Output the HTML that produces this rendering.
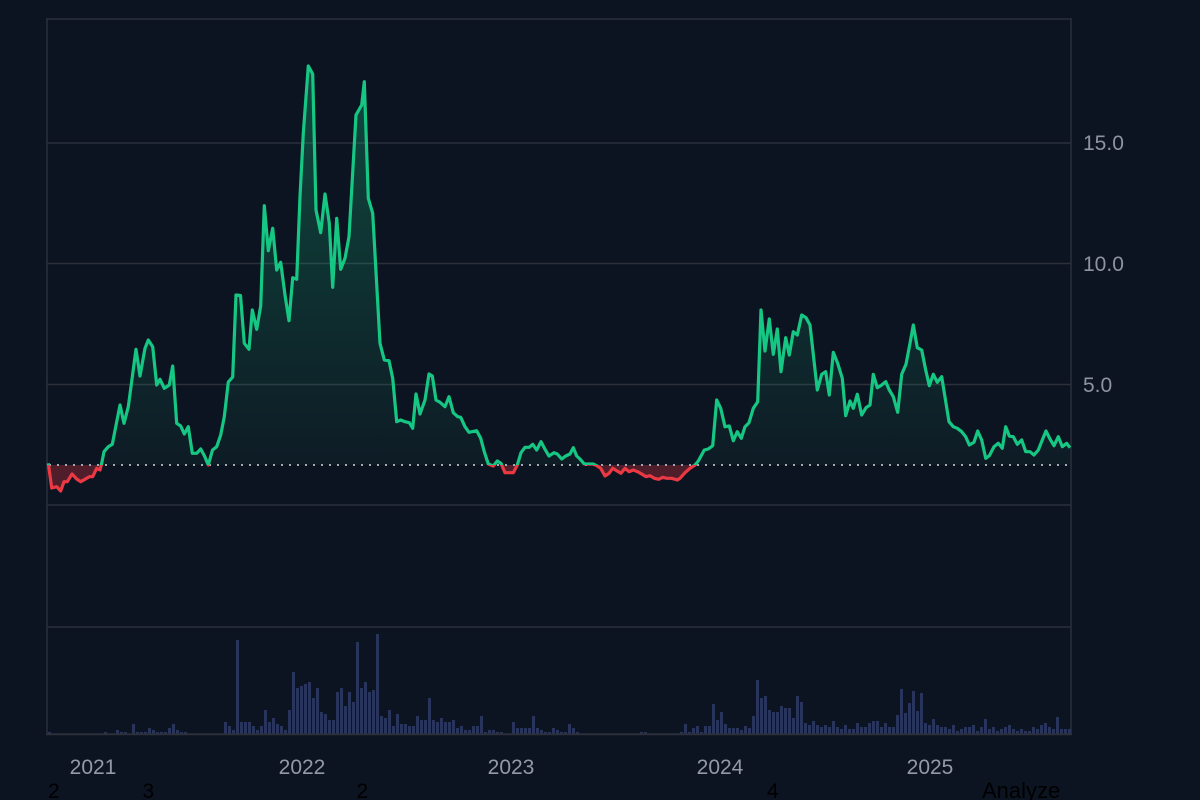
<!DOCTYPE html>
<html>
<head>
<meta charset="utf-8">
<style>
html,body{margin:0;padding:0;background:#0d1421;width:1200px;height:800px;overflow:hidden;}
svg{display:block;}
</style>
</head>
<body>
<svg width="1200" height="800" viewBox="0 0 1200 800" xmlns="http://www.w3.org/2000/svg">
<defs>
<linearGradient id="gg" gradientUnits="userSpaceOnUse" x1="0" y1="19" x2="0" y2="465">
<stop offset="0" stop-color="#16c784" stop-opacity="0.33"/>
<stop offset="1" stop-color="#16c784" stop-opacity="0.04"/>
</linearGradient>
<clipPath id="above"><rect x="0" y="0" width="1200" height="465"/></clipPath>
<clipPath id="below"><rect x="0" y="465" width="1200" height="335"/></clipPath>
<path id="areaP" d="M48.3,465 L48.3,463.3 L51.7,488 L56.7,486.7 L60.7,491 L64,481.7 L67.3,481.7 L72,474 L76.7,479 L80.7,481.7 L85,479.3 L89.3,476.7 L92.7,476.7 L96.7,468.3 L100,470 L101.7,463.3 L104,451.7 L108.3,446.7 L112.3,444.3 L120,405 L124,423.3 L128.3,406.7 L136,349.3 L140,376 L145,348.3 L148.3,340 L152.7,346.7 L156.7,385 L160,379.3 L164.3,388.3 L169.3,385 L172.7,366 L176.7,423.3 L180.7,426 L184.3,434 L188.3,426.7 L192.3,453.3 L196.7,453.3 L200.7,449 L204.5,456 L208.3,465 L212.5,450 L216.7,446.7 L220.7,435 L224.3,416.7 L228.3,382 L232.7,377 L236,295 L240.5,295.5 L244.3,343.3 L249,349.3 L252.3,310 L256.7,329.3 L260.7,306 L264.3,205.7 L268.3,250.7 L272.7,228.3 L276.7,270 L280.7,262.3 L285,295 L289,320.7 L292.7,277.7 L296.7,279.3 L300,196.7 L303.3,133.3 L308.3,66 L312.7,74 L316,210 L320.7,232.7 L325,194 L329.3,223.3 L332.7,287.3 L336.7,218.3 L340.7,269.3 L345,258.3 L349,236.7 L356,115 L361.7,105 L364.3,81.7 L368.3,198.3 L372.7,213.3 L380,343.3 L384.3,360 L389,360.7 L392.7,378.3 L396.7,421.7 L400.7,420 L405,421.7 L409.3,422.7 L412.7,428.3 L416,394 L420,414 L425,400 L429,374 L432.3,376 L436,400 L440,402.3 L445,406.7 L449,396.7 L453.3,412.7 L457.7,416.7 L460.7,417.3 L465,426.7 L469,432.3 L476.7,430.7 L480.7,438.3 L484.3,451.7 L488.3,464 L493.3,466 L497.3,461 L501,463.3 L505,472.7 L513.3,472.7 L517.3,465 L521,452.7 L525,447.3 L529.3,447.3 L532.7,444.3 L536.7,450 L541,441.7 L545,449.3 L549,456 L554,452.7 L557.3,454 L561.7,459 L565.7,456 L570,454 L573.3,447.7 L576.7,456 L580,459 L584.3,464 L588.3,464 L593.3,464 L597.3,466 L600.7,468.3 L605,476 L609,473.3 L612.7,468.3 L616.7,470.7 L621,473.3 L625,468.3 L629,471.7 L633.3,470 L637.7,471.7 L641.7,474 L646,476.7 L650,475.7 L654.3,478.3 L658.7,479.3 L662.7,477.3 L666.7,478.3 L671.7,478.3 L677.3,480 L680,478.3 L685,472.7 L690,468.3 L695,465 L698.3,461 L704.3,450 L708.3,449 L712.7,445.7 L716.7,400 L720.7,408.3 L725,426.7 L729.3,426 L733.3,440.7 L737.3,431.7 L741.3,438.3 L745,426.7 L749,422.7 L753.3,408.3 L757.7,401.7 L761,310 L765,351 L769.3,319 L773.3,354.3 L777.3,329 L781,371.7 L785.7,337.7 L789.3,355 L793.3,331.7 L797.3,335 L801.7,315 L806,317.7 L810,325 L817.3,390 L821.7,374.3 L825.7,371.7 L829.3,395 L833.3,352.3 L837.7,363.3 L842.3,378.3 L845.7,415.7 L850,401 L853.3,408.3 L857.3,394.3 L861.7,415 L866,407.7 L870,405 L873.3,374.3 L877.3,387.7 L881.7,385 L885.7,381.7 L889.3,390 L893.3,396.7 L897.7,412.3 L901.7,374.3 L906,364.3 L910,343.3 L913.3,325 L917.3,347.7 L921.7,350 L925.7,370 L929.3,385.7 L933.3,374.3 L937.3,382.3 L941.7,376.7 L949,421.7 L953.3,426.7 L957.3,428.3 L961.7,431.7 L965.7,436.7 L969.3,445 L974,442.3 L977.7,431 L981.7,440 L985.7,458.3 L989.3,455.7 L994,446.7 L998.3,443.3 L1002.3,448.3 L1005.7,426.7 L1009.3,436 L1013.3,436.7 L1017.3,444.3 L1021.7,440 L1025.7,451.7 L1030,451.7 L1034,455 L1038.3,450 L1042.3,440 L1046,431 L1050,439 L1054,445.7 L1058.3,436.7 L1062.3,446.7 L1066.7,443.3 L1070,447.7 L1070,465 Z"/>
</defs>
<rect x="0" y="0" width="1200" height="800" fill="#0d1421"/>

<!-- grid -->
<g stroke="#2b303b" stroke-width="1.5" fill="none">
<line x1="47" y1="19" x2="1071" y2="19"/>
<line x1="47" y1="143" x2="1071" y2="143"/>
<line x1="47" y1="263.5" x2="1071" y2="263.5"/>
<line x1="47" y1="384.5" x2="1071" y2="384.5"/>
<line x1="47" y1="505" x2="1071" y2="505"/>
<line x1="47" y1="627" x2="1071" y2="627"/>
<line x1="47" y1="18" x2="47" y2="735"/>
<line x1="1071" y1="18" x2="1071" y2="735"/>
</g>

<!-- volume bars -->
<path fill="#29345c" d="M48 734V732h3V734z M104 734V732h3V734z M116 734V730h3V734z M120 734V732h3V734z M124 734V732h3V734z M132 734V724h3V734z M136 734V732h3V734z M140 734V732h3V734z M144 734V732h3V734z M148 734V728h3V734z M152 734V730h3V734z M156 734V732h3V734z M160 734V732h3V734z M164 734V732h3V734z M168 734V728h3V734z M172 734V724h3V734z M176 734V730h3V734z M180 734V732h3V734z M184 734V732h3V734z M224 734V722h3V734z M228 734V726h3V734z M232 734V730h3V734z M236 734V640h3V734z M240 734V722h3V734z M244 734V722h3V734z M248 734V722h3V734z M252 734V726h3V734z M256 734V730h3V734z M260 734V726h3V734z M264 734V710h3V734z M268 734V722h3V734z M272 734V718h3V734z M276 734V724h3V734z M280 734V726h3V734z M284 734V730h3V734z M288 734V710h3V734z M292 734V672h3V734z M296 734V688h3V734z M300 734V686h3V734z M304 734V684h3V734z M308 734V682h3V734z M312 734V698h3V734z M316 734V688h3V734z M320 734V712h3V734z M324 734V714h3V734z M328 734V720h3V734z M332 734V720h3V734z M336 734V692h3V734z M340 734V688h3V734z M344 734V706h3V734z M348 734V692h3V734z M352 734V702h3V734z M356 734V642h3V734z M360 734V688h3V734z M364 734V682h3V734z M368 734V692h3V734z M372 734V690h3V734z M376 734V634h3V734z M380 734V716h3V734z M384 734V718h3V734z M388 734V710h3V734z M392 734V726h3V734z M396 734V714h3V734z M400 734V724h3V734z M404 734V724h3V734z M408 734V726h3V734z M412 734V726h3V734z M416 734V716h3V734z M420 734V720h3V734z M424 734V720h3V734z M428 734V698h3V734z M432 734V720h3V734z M436 734V722h3V734z M440 734V718h3V734z M444 734V722h3V734z M448 734V722h3V734z M452 734V720h3V734z M456 734V728h3V734z M460 734V726h3V734z M464 734V730h3V734z M468 734V730h3V734z M472 734V726h3V734z M476 734V726h3V734z M480 734V716h3V734z M484 734V732h3V734z M488 734V730h3V734z M492 734V730h3V734z M496 734V732h3V734z M500 734V732h3V734z M512 734V722h3V734z M516 734V728h3V734z M520 734V728h3V734z M524 734V728h3V734z M528 734V728h3V734z M532 734V716h3V734z M536 734V728h3V734z M540 734V730h3V734z M544 734V732h3V734z M548 734V732h3V734z M552 734V728h3V734z M556 734V730h3V734z M560 734V732h3V734z M564 734V732h3V734z M568 734V724h3V734z M572 734V728h3V734z M576 734V732h3V734z M640 734V732h3V734z M644 734V732h3V734z M680 734V732h3V734z M684 734V724h3V734z M688 734V732h3V734z M692 734V728h3V734z M696 734V726h3V734z M700 734V732h3V734z M704 734V726h3V734z M708 734V726h3V734z M712 734V704h3V734z M716 734V720h3V734z M720 734V712h3V734z M724 734V724h3V734z M728 734V728h3V734z M732 734V728h3V734z M736 734V728h3V734z M740 734V730h3V734z M744 734V726h3V734z M748 734V728h3V734z M752 734V716h3V734z M756 734V680h3V734z M760 734V698h3V734z M764 734V696h3V734z M768 734V710h3V734z M772 734V712h3V734z M776 734V712h3V734z M780 734V706h3V734z M784 734V708h3V734z M788 734V708h3V734z M792 734V718h3V734z M796 734V696h3V734z M800 734V702h3V734z M804 734V723h3V734z M808 734V725h3V734z M812 734V721h3V734z M816 734V725h3V734z M820 734V727h3V734z M824 734V725h3V734z M828 734V727h3V734z M832 734V721h3V734z M836 734V727h3V734z M840 734V729h3V734z M844 734V725h3V734z M848 734V729h3V734z M852 734V729h3V734z M856 734V723h3V734z M860 734V727h3V734z M864 734V727h3V734z M868 734V723h3V734z M872 734V721h3V734z M876 734V721h3V734z M880 734V727h3V734z M884 734V723h3V734z M888 734V727h3V734z M892 734V727h3V734z M896 734V715h3V734z M900 734V689h3V734z M904 734V713h3V734z M908 734V703h3V734z M912 734V691h3V734z M916 734V711h3V734z M920 734V693h3V734z M924 734V723h3V734z M928 734V725h3V734z M932 734V719h3V734z M936 734V725h3V734z M940 734V727h3V734z M944 734V727h3V734z M948 734V729h3V734z M952 734V725h3V734z M956 734V731h3V734z M960 734V729h3V734z M964 734V727h3V734z M968 734V727h3V734z M972 734V725h3V734z M976 734V731h3V734z M980 734V727h3V734z M984 734V719h3V734z M988 734V729h3V734z M992 734V727h3V734z M996 734V731h3V734z M1000 734V729h3V734z M1004 734V727h3V734z M1008 734V725h3V734z M1012 734V729h3V734z M1016 734V731h3V734z M1020 734V729h3V734z M1024 734V731h3V734z M1028 734V731h3V734z M1032 734V727h3V734z M1036 734V729h3V734z M1040 734V725h3V734z M1044 734V723h3V734z M1048 734V727h3V734z M1052 734V729h3V734z M1056 734V717h3V734z M1060 734V729h3V734z M1064 734V729h3V734z M1068 734V729h3V734z"/>

<line x1="46" y1="734.3" x2="1072" y2="734.3" stroke="#2b303b" stroke-width="2"/>

<!-- area fills -->
<use href="#areaP" clip-path="url(#above)" fill="url(#gg)"/>
<use href="#areaP" clip-path="url(#below)" fill="#ea3943" fill-opacity="0.3"/>

<!-- baseline dotted -->
<line x1="49" y1="465" x2="1070" y2="465" stroke="#a3a7b0" stroke-width="2" stroke-dasharray="2 6"/>

<!-- lines -->
<g id="ln" fill="none" stroke-width="3.2" stroke-linejoin="round" stroke-linecap="butt">
<polyline points="48.3,463.3 51.7,488 56.7,486.7 60.7,491 64,481.7 67.3,481.7 72,474 76.7,479 80.7,481.7 85,479.3 89.3,476.7 92.7,476.7 96.7,468.3 100,470 101.7,463.3 104,451.7 108.3,446.7 112.3,444.3 120,405 124,423.3 128.3,406.7 136,349.3 140,376 145,348.3 148.3,340 152.7,346.7 156.7,385 160,379.3 164.3,388.3 169.3,385 172.7,366 176.7,423.3 180.7,426 184.3,434 188.3,426.7 192.3,453.3 196.7,453.3 200.7,449 204.5,456 208.3,465 212.5,450 216.7,446.7 220.7,435 224.3,416.7 228.3,382 232.7,377 236,295 240.5,295.5 244.3,343.3 249,349.3 252.3,310 256.7,329.3 260.7,306 264.3,205.7 268.3,250.7 272.7,228.3 276.7,270 280.7,262.3 285,295 289,320.7 292.7,277.7 296.7,279.3 300,196.7 303.3,133.3 308.3,66 312.7,74 316,210 320.7,232.7 325,194 329.3,223.3 332.7,287.3 336.7,218.3 340.7,269.3 345,258.3 349,236.7 356,115 361.7,105 364.3,81.7 368.3,198.3 372.7,213.3 380,343.3 384.3,360 389,360.7 392.7,378.3 396.7,421.7 400.7,420 405,421.7 409.3,422.7 412.7,428.3 416,394 420,414 425,400 429,374 432.3,376 436,400 440,402.3 445,406.7 449,396.7 453.3,412.7 457.7,416.7 460.7,417.3 465,426.7 469,432.3 476.7,430.7 480.7,438.3 484.3,451.7 488.3,464 493.3,466 497.3,461 501,463.3 505,472.7 513.3,472.7 517.3,465 521,452.7 525,447.3 529.3,447.3 532.7,444.3 536.7,450 541,441.7 545,449.3 549,456 554,452.7 557.3,454 561.7,459 565.7,456 570,454 573.3,447.7 576.7,456 580,459 584.3,464 588.3,464 593.3,464 597.3,466 600.7,468.3 605,476 609,473.3 612.7,468.3 616.7,470.7 621,473.3 625,468.3 629,471.7 633.3,470 637.7,471.7 641.7,474 646,476.7 650,475.7 654.3,478.3 658.7,479.3 662.7,477.3 666.7,478.3 671.7,478.3 677.3,480 680,478.3 685,472.7 690,468.3 695,465 698.3,461 704.3,450 708.3,449 712.7,445.7 716.7,400 720.7,408.3 725,426.7 729.3,426 733.3,440.7 737.3,431.7 741.3,438.3 745,426.7 749,422.7 753.3,408.3 757.7,401.7 761,310 765,351 769.3,319 773.3,354.3 777.3,329 781,371.7 785.7,337.7 789.3,355 793.3,331.7 797.3,335 801.7,315 806,317.7 810,325 817.3,390 821.7,374.3 825.7,371.7 829.3,395 833.3,352.3 837.7,363.3 842.3,378.3 845.7,415.7 850,401 853.3,408.3 857.3,394.3 861.7,415 866,407.7 870,405 873.3,374.3 877.3,387.7 881.7,385 885.7,381.7 889.3,390 893.3,396.7 897.7,412.3 901.7,374.3 906,364.3 910,343.3 913.3,325 917.3,347.7 921.7,350 925.7,370 929.3,385.7 933.3,374.3 937.3,382.3 941.7,376.7 949,421.7 953.3,426.7 957.3,428.3 961.7,431.7 965.7,436.7 969.3,445 974,442.3 977.7,431 981.7,440 985.7,458.3 989.3,455.7 994,446.7 998.3,443.3 1002.3,448.3 1005.7,426.7 1009.3,436 1013.3,436.7 1017.3,444.3 1021.7,440 1025.7,451.7 1030,451.7 1034,455 1038.3,450 1042.3,440 1046,431 1050,439 1054,445.7 1058.3,436.7 1062.3,446.7 1066.7,443.3 1070,447.7"/>
</g>
<use href="#ln" clip-path="url(#above)" style="stroke:#16c784"/>
<use href="#ln" clip-path="url(#below)" style="stroke:#ea3943"/>

<!-- y labels -->
<g font-family="Liberation Sans, sans-serif" font-size="21" fill="#8d93a1">
<text x="1083" y="150">15.0</text>
<text x="1083" y="271">10.0</text>
<text x="1083" y="392">5.0</text>
</g>

<!-- x labels -->
<g font-family="Liberation Sans, sans-serif" font-size="21" fill="#9499a8" text-anchor="middle">
<text x="93" y="774">2021</text>
<text x="302" y="774">2022</text>
<text x="511" y="774">2023</text>
<text x="720" y="774">2024</text>
<text x="930" y="774">2025</text>
</g>

<!-- bottom black text -->
<g font-family="Liberation Sans, sans-serif" font-size="21" fill="#000000">
<text x="48" y="798">2</text>
<text x="142.5" y="798">3</text>
<text x="356.5" y="798">2</text>
<text x="767" y="798">4</text>
<text x="982" y="798" font-size="22">Analyze</text>
</g>
</svg>
</body>
</html>
